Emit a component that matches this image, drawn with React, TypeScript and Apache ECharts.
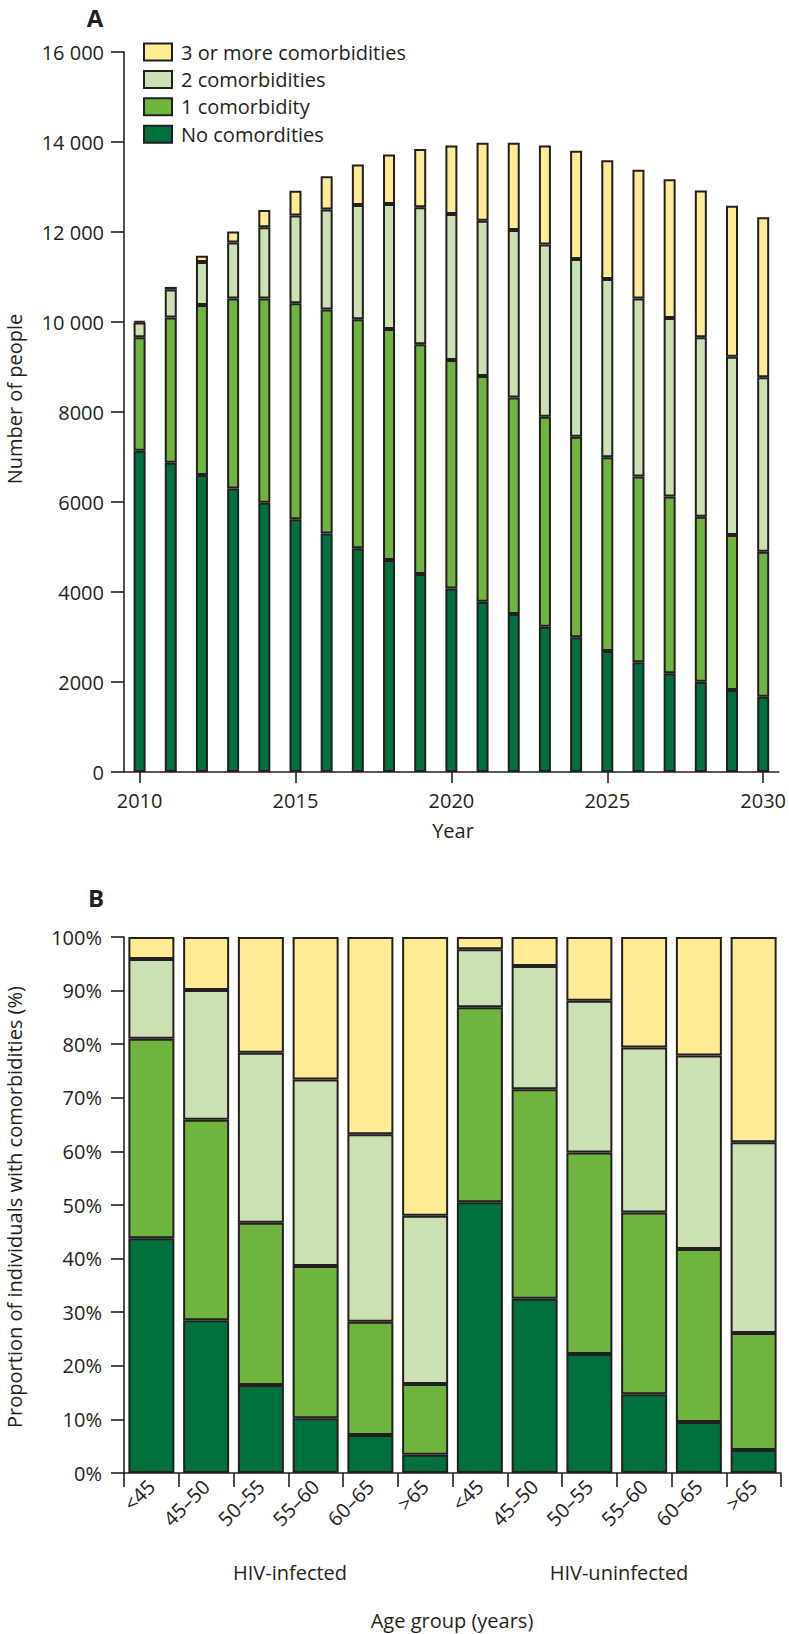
import React, { useEffect, useRef } from 'react';
import * as echarts from 'echarts';

const FONT = '"Open Sans", sans-serif';
const INK = '#231f20';

const seriesNames = ['No comordities', '1 comorbidity', '2 comorbidities', '3 or more comorbidities'];
const seriesColors = ['#00703c', '#6fb43f', '#cbe1b4', '#ffeb94'];

// Panel A: number of people by year
const years = ['2010', '2011', '2012', '2013', '2014', '2015', '2016', '2017', '2018', '2019', '2020',
  '2021', '2022', '2023', '2024', '2025', '2026', '2027', '2028', '2029', '2030'];
const noneA = [7140, 6870, 6600, 6300, 5985, 5615, 5300, 4970, 4710, 4400, 4080, 3785, 3510, 3230, 2995, 2690, 2440, 2195, 2005, 1820, 1675];
const oneA = [2520, 3230, 3780, 4225, 4540, 4800, 4980, 5090, 5135, 5105, 5075, 5015, 4815, 4665, 4455, 4305, 4125, 3925, 3670, 3445, 3220];
const twoA = [330, 620, 955, 1240, 1580, 1950, 2220, 2540, 2780, 3045, 3245, 3450, 3720, 3830, 3950, 3960, 3955, 3970, 3985, 3965, 3875];
const threeA = [30, 60, 135, 245, 385, 550, 740, 900, 1100, 1295, 1525, 1735, 1940, 2200, 2405, 2640, 2865, 3080, 3260, 3355, 3560];

// Panel B: proportion by age group
const groupKeys = ['i<45', 'i45', 'i50', 'i55', 'i60', 'i65', 'u<45', 'u45', 'u50', 'u55', 'u60', 'u65'];
const groupLabels = ['<45', '45–50', '50–55', '55–60', '60–65', '>65', '<45', '45–50', '50–55', '55–60', '60–65', '>65'];
const noneB = [43.8, 28.5, 16.4, 10.2, 7.1, 3.4, 50.5, 32.5, 22.2, 14.7, 9.5, 4.3];
const oneB = [37.2, 37.4, 30.3, 28.4, 21.1, 13.2, 36.4, 39.1, 37.6, 33.9, 32.3, 21.8];
const twoB = [14.9, 24.2, 31.7, 34.8, 35.0, 31.4, 10.8, 23.0, 28.3, 30.8, 36.1, 35.6];
const threeB = [4.1, 9.9, 21.6, 26.6, 36.8, 52.0, 2.3, 5.4, 11.9, 20.6, 22.1, 38.3];

const groupNames = ['HIV-infected', 'HIV-uninfected'];

const dataA = [noneA, oneA, twoA, threeA];
const dataB = [noneB, oneB, twoB, threeB];

function fmtThousands(v: number): string {
  if (v >= 10000) {
    const th = Math.floor(v / 1000);
    const rest = String(v % 1000).padStart(3, '0');
    return th + ' ' + rest;
  }
  return String(v);
}

export default function App() {
  const ref = useRef<HTMLDivElement>(null);
  useEffect(() => {
    document.body.style.margin = '0';
    const chart = echarts.init(ref.current as HTMLDivElement, null, { renderer: 'svg' });
    const txt = { fontFamily: FONT, color: INK, fontSize: 20 };
    const axisLine = { show: true, lineStyle: { color: INK, width: 1.6 } };
    const series: any[] = [];
    for (let k = 0; k < 4; k++) {
      series.push({
        type: 'bar', name: seriesNames[k], stack: 'a', xAxisIndex: 0, yAxisIndex: 0,
        data: dataA[k], barWidth: 12,
        itemStyle: { color: seriesColors[k], borderColor: INK, borderWidth: 2 },
      });
    }
    for (let k = 0; k < 4; k++) {
      series.push({
        type: 'bar', name: seriesNames[k], stack: 'b', xAxisIndex: 1, yAxisIndex: 1,
        data: dataB[k], barWidth: 46,
        itemStyle: { color: seriesColors[k], borderColor: INK, borderWidth: 2 },
      });
    }
    chart.setOption({
      animation: false,
      textStyle: { fontFamily: FONT, color: INK },
      grid: [
        { left: 124, right: 8, top: 52, bottom: 1634 - 772 },
        { left: 124, right: 8, top: 937, bottom: 1634 - 1473 },
      ],
      legend: {
        data: [seriesNames[3], seriesNames[2], seriesNames[1], seriesNames[0]],
        orient: 'vertical', left: 143, top: 42, padding: 0,
        itemWidth: 28, itemHeight: 17, itemGap: 7.4, icon: 'rect',
        selectedMode: false,
        itemStyle: { borderColor: INK, borderWidth: 2 },
        textStyle: { ...txt, lineHeight: 20, padding: [0, 0, 0, 4] },
      },
      xAxis: [
        {
          type: 'category', gridIndex: 0, data: years, boundaryGap: true,
          axisLine, axisTick: { show: true, alignWithLabel: true, interval: 4, length: 11, lineStyle: { color: INK, width: 1.6 } },
          axisLabel: { ...txt, interval: 4, margin: 18 },
          splitLine: { show: false },
        },
        {
          type: 'category', gridIndex: 1, data: groupKeys, boundaryGap: true,
          axisLine, axisTick: { show: true, alignWithLabel: false, length: 14, lineStyle: { color: INK, width: 1.6 } },
          axisLabel: { ...txt, interval: 0, rotate: 45, margin: 10, formatter: (_v: string, i: number) => groupLabels[i] },
          splitLine: { show: false },
        },
      ],
      yAxis: [
        {
          type: 'value', gridIndex: 0, min: 0, max: 16000, interval: 2000,
          axisLine, axisTick: { show: true, length: 13, lineStyle: { color: INK, width: 1.6 } },
          axisLabel: { ...txt, margin: 20, formatter: (v: number) => fmtThousands(v) },
          splitLine: { show: false },
        },
        {
          type: 'value', gridIndex: 1, min: 0, max: 100, interval: 10,
          axisLine, axisTick: { show: true, length: 13, lineStyle: { color: INK, width: 1.6 } },
          axisLabel: { ...txt, margin: 22, formatter: (v: number) => v + '%' },
          splitLine: { show: false },
        },
      ],
      graphic: [
        { type: 'text', x: 95, y: 17, style: { text: 'A', font: `bold 24px ${FONT}`, fill: INK, textAlign: 'center', textVerticalAlign: 'middle' } },
        { type: 'text', x: 96, y: 897, style: { text: 'B', font: `bold 24px ${FONT}`, fill: INK, textAlign: 'center', textVerticalAlign: 'middle' } },
        { type: 'text', x: 14, y: 399, rotation: Math.PI / 2, style: { text: 'Number of people', font: `20px ${FONT}`, fill: INK, textAlign: 'center', textVerticalAlign: 'middle' } },
        { type: 'text', x: 453, y: 830, style: { text: 'Year', font: `20px ${FONT}`, fill: INK, textAlign: 'center', textVerticalAlign: 'middle' } },
        { type: 'text', x: 14, y: 1207, rotation: Math.PI / 2, style: { text: 'Proportion of individuals with comorbidities (%)', font: `20px ${FONT}`, fill: INK, textAlign: 'center', textVerticalAlign: 'middle' } },
        { type: 'text', x: 290, y: 1572, style: { text: groupNames[0], font: `20px ${FONT}`, fill: INK, textAlign: 'center', textVerticalAlign: 'middle' } },
        { type: 'text', x: 619, y: 1572, style: { text: groupNames[1], font: `20px ${FONT}`, fill: INK, textAlign: 'center', textVerticalAlign: 'middle' } },
        { type: 'text', x: 452, y: 1620, style: { text: 'Age group (years)', font: `20px ${FONT}`, fill: INK, textAlign: 'center', textVerticalAlign: 'middle' } },
      ],
      series,
    });
    return () => chart.dispose();
  }, []);
  return <div ref={ref} style={{ width: 789, height: 1634 }} />;
}
